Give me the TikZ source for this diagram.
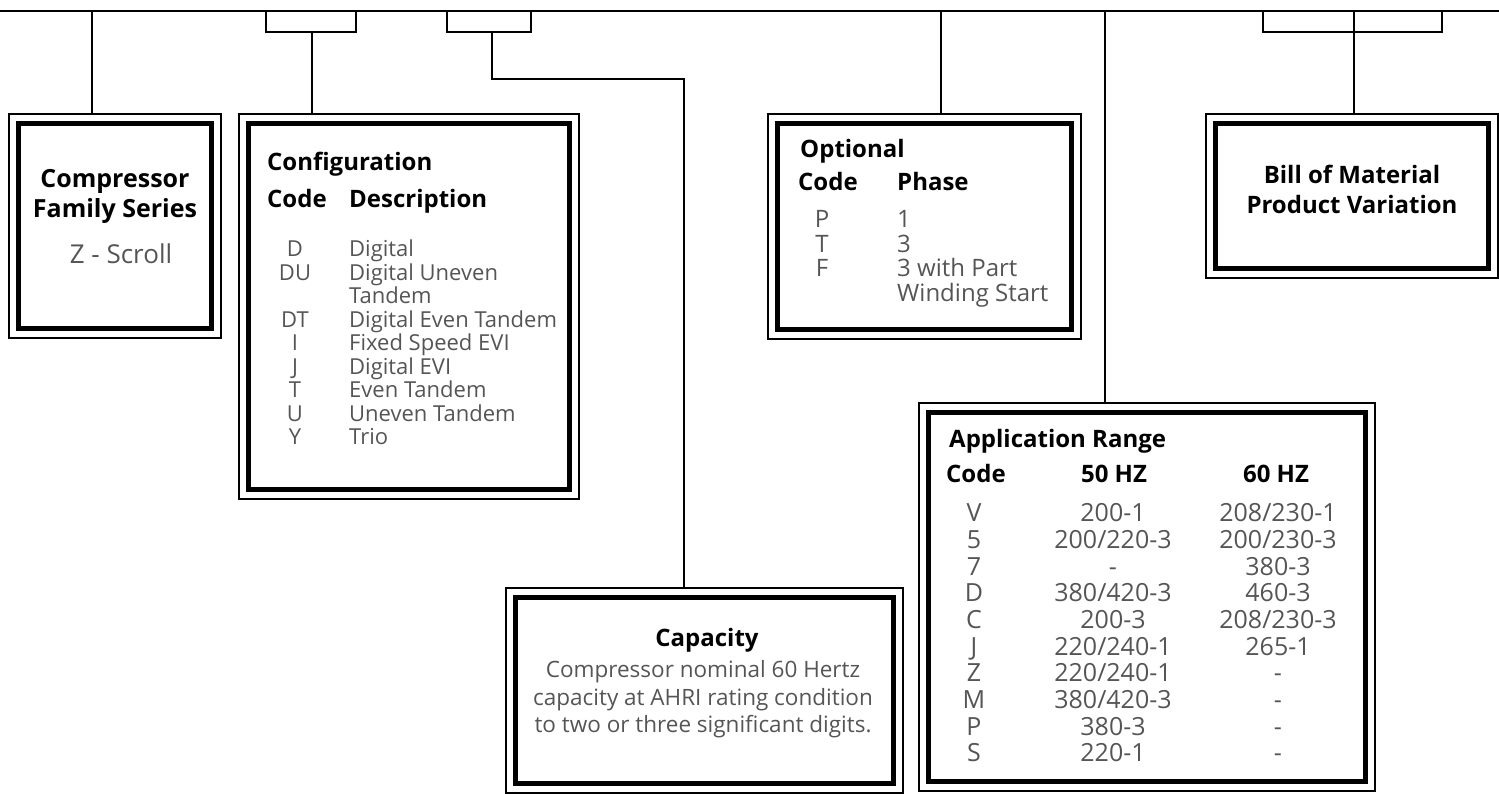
\documentclass[tikz,border=0pt]{standalone}
\usepackage{fontspec}
\setmainfont{Open Sans}
\usetikzlibrary{calc}
\definecolor{txtgray}{HTML}{555555}
\begin{document}
\begin{tikzpicture}[x=1pt,y=-1pt,
  conn/.style={line width=2pt, black},
  outerbox/.style={draw, line width=1.8pt, inner sep=0pt, anchor=north west},
  innerbox/.style={draw, line width=5pt},
  hd/.style={inner sep=0pt, font=\fontsize{24}{24}\selectfont\bfseries, text=black},
  bd/.style={inner sep=0pt, font=\fontsize{22}{22}\selectfont, text=txtgray},
  ob/.style={inner sep=0pt, font=\fontsize{24}{24}\selectfont, text=txtgray},
  cb/.style={inner sep=0pt, font=\fontsize{22.5}{22.5}\selectfont, text=txtgray},
  ab/.style={inner sep=0pt, font=\fontsize{25}{25}\selectfont, text=txtgray},
]
\useasboundingbox (0,0) rectangle (1499,794);

% ---------- boxes ----------
\node[outerbox, minimum width=212, minimum height=224] (fam) at (8,113) {};
\node[outerbox, minimum width=340, minimum height=385] (cfg) at (238,113) {};
\node[outerbox, minimum width=397, minimum height=205] (cap) at (505,587) {};
\node[outerbox, minimum width=313, minimum height=225] (opt) at (767,113) {};
\node[outerbox, minimum width=456, minimum height=388] (app) at (918,402) {};
\node[outerbox, minimum width=292, minimum height=164] (bom) at (1205,113) {};
\foreach \b in {fam,cfg,cap,opt,app,bom}{
  \draw[innerbox] ($(\b.north west)+(10.5,10.5)$) rectangle ($(\b.south east)+(-10.5,-10.5)$);
}

% ---------- connectors ----------
\coordinate (TL) at (0,11);
\coordinate (TR) at (1499,11);
\draw[conn] (TL) -- (TR);

\coordinate (t1) at (92,11);
\draw[conn] (t1) -- (t1 |- fam.north);

\coordinate (b1l) at (266,11);
\coordinate (b1r) at (356,11);
\coordinate (b1s) at (312,32);
\draw[conn] (b1l) |- (b1s) -| (b1r);
\draw[conn] (b1s) -- (b1s |- cfg.north);

\coordinate (b2l) at (447,11);
\coordinate (b2r) at (531,11);
\coordinate (b2s) at (492,32);
\coordinate (k2) at (684,79);
\draw[conn] (b2l) |- (b2s) -| (b2r);
\draw[conn] (b2s) |- (k2) -- (k2 |- cap.north);

\coordinate (t4) at (941,11);
\draw[conn] (t4) -- (t4 |- opt.north);

\coordinate (t5) at (1105,11);
\draw[conn] (t5) -- (t5 |- app.north);

\coordinate (b3l) at (1263,11);
\coordinate (b3r) at (1442,11);
\coordinate (b3s) at (1354,11);
\coordinate (b3b) at (1354,32);
\draw[conn] (b3l) |- (b3b) -| (b3r);
\draw[conn] (b3s) -- (b3s |- bom.north);

% ---------- Compressor family ----------
\node[hd, font=\fontsize{25}{25}\selectfont\bfseries, anchor=mid] (f1) at (115,185) {Compressor};
\node[hd, font=\fontsize{25}{25}\selectfont\bfseries, anchor=mid] (f2) at (115,215) {Family Series};
\node[bd, font=\fontsize{26}{26}\selectfont, anchor=mid] (f3) at (121,261) {Z - Scroll};

% ---------- Configuration ----------
\node[hd, anchor=mid west] (g0) at (267,168) {Configuration};
\node[hd, anchor=mid west] (g1) at (267,205) {Code};
\node[hd, anchor=mid west] (g2) at (349,205) {Description};
\node[bd, anchor=mid] (gc1) at (295,254) {D};
\node[bd, anchor=mid west] (gd1) at (349,254) {Digital};
\node[bd, anchor=mid] (gc2) at (295,277.5) {DU};
\node[bd, anchor=mid west] (gd2) at (349,277.5) {Digital Uneven};
\node[bd, anchor=mid west] (gd3) at (349,301) {Tandem};
\node[bd, anchor=mid] (gc4) at (295,324.5) {DT};
\node[bd, anchor=mid west] (gd4) at (349,324.5) {Digital Even Tandem};
\node[bd, anchor=mid] (gc5) at (295,348) {I};
\node[bd, anchor=mid west] (gd5) at (349,348) {Fixed Speed EVI};
\node[bd, anchor=mid] (gc6) at (295,371.5) {J};
\node[bd, anchor=mid west] (gd6) at (349,371.5) {Digital EVI};
\node[bd, anchor=mid] (gc7) at (295,395) {T};
\node[bd, anchor=mid west] (gd7) at (349,395) {Even Tandem};
\node[bd, anchor=mid] (gc8) at (295,418.5) {U};
\node[bd, anchor=mid west] (gd8) at (349,418.5) {Uneven Tandem};
\node[bd, anchor=mid] (gc9) at (295,442) {Y};
\node[bd, anchor=mid west] (gd9) at (349,442) {Trio};

% ---------- Capacity ----------
\node[hd, anchor=mid] (p0) at (707,644) {Capacity};
\node[cb, anchor=mid] (p1) at (703,675) {Compressor nominal 60 Hertz};
\node[cb, anchor=mid] (p2) at (703,703) {capacity at AHRI rating condition};
\node[cb, anchor=mid] (p3) at (703,730) {to two or three significant digits.};

% ---------- Optional ----------
\node[hd, anchor=mid west] (o0) at (800,155) {Optional};
\node[hd, anchor=mid west] (o1) at (798,188) {Code};
\node[hd, anchor=mid west] (o2) at (897,188) {Phase};
\node[ob, anchor=mid] (oc1) at (822,225) {P};
\node[ob, anchor=mid west] (ov1) at (897,225) {1};
\node[ob, anchor=mid] (oc2) at (822,249.5) {T};
\node[ob, anchor=mid west] (ov2) at (897,249.5) {3};
\node[ob, anchor=mid] (oc3) at (822,274) {F};
\node[ob, anchor=mid west] (ov3) at (897,274) {3 with Part};
\node[ob, anchor=mid west] (ov4) at (897,298.5) {Winding Start};

% ---------- Bill of material ----------
\node[hd, anchor=mid] (m1) at (1352,181) {Bill of Material};
\node[hd, anchor=mid] (m2) at (1352,211) {Product Variation};

% ---------- Application range ----------
\node[hd, anchor=mid west] (a0) at (949,445) {Application Range};
\node[hd, anchor=mid west] (a1) at (946,480) {Code};
\node[hd, anchor=mid] (a2) at (1114,480) {50 HZ};
\node[hd, anchor=mid] (a3) at (1276,480) {60 HZ};

\node[ab, anchor=mid] (ac1) at (974,519) {V};
\node[ab, anchor=mid] (a51) at (1113,519) {200-1};
\node[ab, anchor=mid] (a61) at (1278,519) {208/230-1};
\node[ab, anchor=mid] (ac2) at (974,545.7) {5};
\node[ab, anchor=mid] (a52) at (1113,545.7) {200/220-3};
\node[ab, anchor=mid] (a62) at (1278,545.7) {200/230-3};
\node[ab, anchor=mid] (ac3) at (974,572.4) {7};
\node[ab, anchor=mid] (a53) at (1113,572.4) {-};
\node[ab, anchor=mid] (a63) at (1278,572.4) {380-3};
\node[ab, anchor=mid] (ac4) at (974,599.1) {D};
\node[ab, anchor=mid] (a54) at (1113,599.1) {380/420-3};
\node[ab, anchor=mid] (a64) at (1278,599.1) {460-3};
\node[ab, anchor=mid] (ac5) at (974,625.8) {C};
\node[ab, anchor=mid] (a55) at (1113,625.8) {200-3};
\node[ab, anchor=mid] (a65) at (1278,625.8) {208/230-3};
\node[ab, anchor=mid] (ac6) at (974,652.5) {J};
\node[ab, anchor=mid] (a56) at (1113,652.5) {220/240-1};
\node[ab, anchor=mid] (a66) at (1278,652.5) {265-1};
\node[ab, anchor=mid] (ac7) at (974,679.2) {Z};
\node[ab, anchor=mid] (a57) at (1113,679.2) {220/240-1};
\node[ab, anchor=mid] (a67) at (1278,679.2) {-};
\node[ab, anchor=mid] (ac8) at (974,705.9) {M};
\node[ab, anchor=mid] (a58) at (1113,705.9) {380/420-3};
\node[ab, anchor=mid] (a68) at (1278,705.9) {-};
\node[ab, anchor=mid] (ac9) at (974,732.6) {P};
\node[ab, anchor=mid] (a59) at (1113,732.6) {380-3};
\node[ab, anchor=mid] (a69) at (1278,732.6) {-};
\node[ab, anchor=mid] (ac10) at (974,759.3) {S};
\node[ab, anchor=mid] (a510) at (1113,759.3) {220-1};
\node[ab, anchor=mid] (a610) at (1278,759.3) {-};
\end{tikzpicture}
\end{document}
